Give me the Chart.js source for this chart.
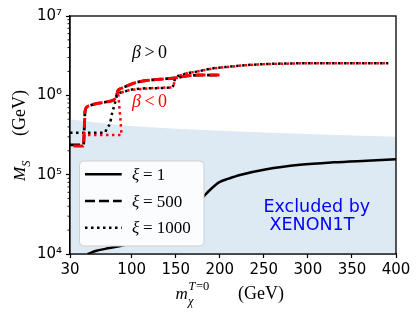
<!DOCTYPE html>
<html><head><meta charset="utf-8">
<script src="https://cdn.jsdelivr.net/npm/chart.js@4/dist/chart.umd.min.js"></script>
<style>html,body{margin:0;padding:0;background:#fff}#wrap{width:420px;height:318px;position:relative}</style>
</head><body><div id="wrap"><canvas id="c"></canvas></div>
<script>
// ---- axis ticks ----
const xTicks = [30,100,150,200,250,300,350,400];
const yTicks = [1e4,1e5,1e6,1e7];
const yTickLabels = ['10\u2074','10\u2075','10\u2076','10\u2077'];

// ---- XENON1T excluded region (upper boundary) ----
const xenonM = [30, 60, 100, 140, 180, 250, 300, 400];
const xenonMS = [5.0e5, 4.55e5, 4.1e5, 3.85e5, 3.66e5, 3.4e5, 3.26e5, 3.0e5];

// ---- xi = 1 (solid) ----
const xi1M  = [50, 60, 70, 87, 110, 130, 150, 165, 175, 183, 190, 200, 210, 223, 253, 291, 329, 367, 400];
const xi1MS = [1.0e4, 1.1e4, 1.16e4, 1.26e4, 1.5e4, 1.86e4, 2.5e4, 3.4e4, 4.3e4, 5.5e4, 6.6e4, 8.1e4, 8.9e4, 9.9e4, 1.17e5, 1.33e5, 1.43e5, 1.5e5, 1.56e5];

// ---- xi = 500, beta > 0 (dashed, black) ----
const xi500posM  = [30, 45.3, 46.3, 47, 49.6, 55, 61, 72.3, 80, 82.5, 84.5, 88, 95, 105, 120, 140, 150, 160, 175, 200];
const xi500posMS = [2.37e5, 2.37e5, 4.0e5, 6.2e5, 7.2e5, 7.6e5, 7.9e5, 8.3e5, 8.8e5, 9.6e5, 1.15e6, 1.22e6, 1.32e6, 1.45e6, 1.55e6, 1.62e6, 1.66e6, 1.74e6, 1.8e6, 1.8e6];

// ---- xi = 500, beta < 0 (dashed, red) ----
const xi500negM  = [34, 45.3, 46.3, 47, 49.6, 55, 61, 72.3, 80, 82.5, 84.5, 88, 95, 105, 120, 140, 150, 160, 175, 200];
const xi500negMS = [2.3e5, 2.3e5, 4.0e5, 6.2e5, 7.2e5, 7.6e5, 7.9e5, 8.3e5, 8.8e5, 9.6e5, 1.15e6, 1.22e6, 1.32e6, 1.45e6, 1.55e6, 1.62e6, 1.66e6, 1.74e6, 1.8e6, 1.8e6];

// ---- xi = 1000, beta > 0 (dotted, black) ----
const xi1000posM  = [30, 69.7, 71.7, 75.4, 77.7, 79.9, 81.9, 83.3, 85.6, 91.3, 98.1, 120.8, 145.4, 148, 149.2, 154.9, 163, 173.8, 192.6, 211.6, 230, 253.3, 291, 330, 391.3];
const xi1000posMS = [3.38e5, 3.38e5, 3.85e5, 4.45e5, 5.9e5, 7.2e5, 8.7e5, 1.01e6, 1.06e6, 1.11e6, 1.17e6, 1.23e6, 1.26e6, 1.4e6, 1.64e6, 1.77e6, 1.9e6, 1.99e6, 2.19e6, 2.3e6, 2.4e6, 2.48e6, 2.53e6, 2.53e6, 2.53e6];

// ---- xi = 1000, beta < 0 (dotted, red) ----
const xi1000negM  = [47, 88.5, 87.3, 85.6, 85.0, 85.6, 91.3, 98.1, 120.8, 145.4, 148, 149.2, 154.9, 163, 173.8, 192.6, 211.6, 230, 253.3, 291, 330, 391.3];
const xi1000negMS = [3.16e5, 3.16e5, 4.9e5, 8.0e5, 1.01e6, 1.06e6, 1.11e6, 1.17e6, 1.23e6, 1.26e6, 1.4e6, 1.64e6, 1.77e6, 1.9e6, 1.99e6, 2.19e6, 2.3e6, 2.4e6, 2.48e6, 2.53e6, 2.53e6, 2.53e6];

const pts = (xs, ys) => xs.map((v, i) => ({x: v, y: ys[i]}));

const DASH = [10, 4];
const DOT = [2.5, 3.5];
const SERIF = '"Liberation Serif", "DejaVu Serif", serif';
const SANS = '"DejaVu Sans", sans-serif';

const annot = {
  id: 'annot',
  afterDatasetsDraw(chart) {
    const {ctx, chartArea: a, scales: {x, y}} = chart;
    ctx.save();
    // minor log ticks
    ctx.strokeStyle = '#000'; ctx.lineWidth = 0.9;
    for (let e = 4; e < 7; e++) {
      for (let k = 2; k < 10; k++) {
        const py = y.getPixelForValue(k * Math.pow(10, e));
        ctx.beginPath(); ctx.moveTo(a.left - 2.5, py); ctx.lineTo(a.left, py); ctx.stroke();
      }
    }
    // frame
    ctx.lineWidth = 1.3;
    ctx.strokeRect(a.left, a.top, a.right - a.left, a.bottom - a.top);

    // legend box
    const lx = 79.5, ly = 161, lw = 124.5, lh = 85, r = 4;
    ctx.beginPath();
    ctx.moveTo(lx + r, ly); ctx.lineTo(lx + lw - r, ly); ctx.quadraticCurveTo(lx + lw, ly, lx + lw, ly + r);
    ctx.lineTo(lx + lw, ly + lh - r); ctx.quadraticCurveTo(lx + lw, ly + lh, lx + lw - r, ly + lh);
    ctx.lineTo(lx + r, ly + lh); ctx.quadraticCurveTo(lx, ly + lh, lx, ly + lh - r);
    ctx.lineTo(lx, ly + r); ctx.quadraticCurveTo(lx, ly, lx + r, ly);
    ctx.closePath();
    ctx.fillStyle = 'rgb(250,252,254)'; ctx.fill();
    ctx.strokeStyle = '#d0d0d0'; ctx.lineWidth = 1; ctx.stroke();

    const items = [['1', []], ['500', DASH], ['1000', DOT]];
    const rows = [174.3, 201, 227.7];
    items.forEach((it, i) => {
      ctx.strokeStyle = '#000'; ctx.lineWidth = 2.5; ctx.setLineDash(it[1]); ctx.lineCap = 'butt';
      ctx.beginPath(); ctx.moveTo(85, rows[i]); ctx.lineTo(121.7, rows[i]); ctx.stroke();
      ctx.setLineDash([]);
      ctx.fillStyle = '#000'; ctx.textBaseline = 'alphabetic'; ctx.textAlign = 'left';
      ctx.font = 'italic 17px ' + SERIF;
      ctx.fillText('\u03BE', 132, rows[i] + 5.5);
      ctx.font = '17px ' + SERIF;
      ctx.fillText('= ' + it[0], 143, rows[i] + 5.5);
    });

    // beta labels
    const beta = (op, col, bx, by) => {
      ctx.fillStyle = col; ctx.textAlign = 'left';
      ctx.font = 'italic 18px ' + SERIF;
      ctx.fillText('\u03B2', bx, by);
      const w = ctx.measureText('\u03B2').width;
      ctx.font = '18px ' + SERIF;
      ctx.fillText(op, bx + w + 3.5, by);
      const ow = ctx.measureText(op).width;
      ctx.fillText('0', bx + w + 3.5 + ow + 3.5, by);
    };
    beta('>', '#000', 132, 57.5);
    beta('<', '#ff0000', 132, 106.5);

    // excluded text
    ctx.fillStyle = '#0000ff'; ctx.font = '17.5px ' + SANS; ctx.textAlign = 'left';
    ctx.fillText('Excluded by', 263.5, 211.5);
    ctx.fillText('XENON1T', 269.5, 230);

    // x title
    ctx.fillStyle = '#000';
    ctx.font = 'italic 17px ' + SERIF; ctx.fillText('m', 175.5, 299);
    ctx.font = 'italic 12.5px ' + SERIF; ctx.fillText('\u03C7', 188, 304.5);
    ctx.font = 'italic 12.5px ' + SERIF; ctx.fillText('T', 188.5, 290);
    const tw = ctx.measureText('T').width;
    ctx.font = '12.5px ' + SERIF; ctx.fillText('=0', 188.5 + tw + 0.5, 290);
    ctx.font = '18px ' + SERIF; ctx.fillText('(GeV)', 238, 299);

    // y title (rotated)
    ctx.save();
    ctx.translate(25, 181); ctx.rotate(-Math.PI / 2);
    ctx.font = 'italic 17px ' + SERIF; ctx.fillText('M', 0, 0);
    const mw = ctx.measureText('M').width;
    ctx.font = 'italic 12.5px ' + SERIF; ctx.fillText('S', mw, 4.5);
    ctx.font = '18px ' + SERIF; ctx.fillText('(GeV)', 45, 0);
    ctx.restore();

    ctx.restore();
  }
};

new Chart(document.getElementById('c'), {
  type: 'line',
  data: {
    datasets: [
      {data: pts(xenonM, xenonMS), borderWidth: 0, borderColor: 'rgba(0,0,0,0)', backgroundColor: 'rgb(221,233,243)', fill: 'start', cubicInterpolationMode: 'monotone', order: 10},
      {data: pts(xi1M, xi1MS), borderColor: '#000', borderWidth: 2.5, fill: false, cubicInterpolationMode: 'monotone', order: 6},
      {data: pts(xi500posM, xi500posMS), borderColor: '#000', borderWidth: 2.8, borderDash: DASH, fill: false, cubicInterpolationMode: 'monotone', order: 5},
      {data: pts(xi1000posM, xi1000posMS), borderColor: '#000', borderWidth: 2.5, borderDash: DOT, fill: false, cubicInterpolationMode: 'monotone', order: 4},
      {data: pts(xi500negM, xi500negMS), borderColor: '#ff0000', borderWidth: 3, borderDash: DASH, fill: false, cubicInterpolationMode: 'monotone', order: 3},
      {data: pts(xi1000negM, xi1000negMS), borderColor: '#ff0000', borderWidth: 2.5, borderDash: DOT, borderDashOffset: 3, fill: false, order: 2}
    ]
  },
  options: {
    responsive: true, maintainAspectRatio: false, animation: false,
    layout: {padding: {top: 16, right: 24, left: 0, bottom: 0}},
    plugins: {legend: {display: false}, tooltip: {enabled: false}},
    elements: {point: {radius: 0}, line: {tension: 0, borderCapStyle: 'butt', borderJoinStyle: 'round'}},
    scales: {
      x: {
        type: 'linear', min: 30, max: 400,
        afterBuildTicks: s => { s.ticks = xTicks.map(v => ({value: v})); },
        afterFit: s => { s.height = 64; },
        ticks: {autoSkip: false, maxRotation: 0, color: '#000', font: {family: 'DejaVu Sans', size: 15}, padding: 3, callback: v => String(v)},
        grid: {drawOnChartArea: false, tickLength: 4, tickColor: '#000', tickWidth: 1.2},
        border: {color: '#000', width: 1.3}
      },
      y: {
        type: 'logarithmic', min: 1e4, max: 1e7,
        afterBuildTicks: s => { s.ticks = yTicks.map(v => ({value: v, major: true})); },
        afterFit: s => { s.width = 70; },
        ticks: {autoSkip: false, color: '#000', font: {family: 'DejaVu Sans', size: 15}, padding: 4,
          callback: v => { const i = yTicks.indexOf(v); return i >= 0 ? yTickLabels[i] : ''; }},
        grid: {drawOnChartArea: false, tickLength: 4, tickColor: '#000', tickWidth: 1.2},
        border: {color: '#000', width: 1.3}
      }
    }
  },
  plugins: [annot]
});
</script>
</body></html>
